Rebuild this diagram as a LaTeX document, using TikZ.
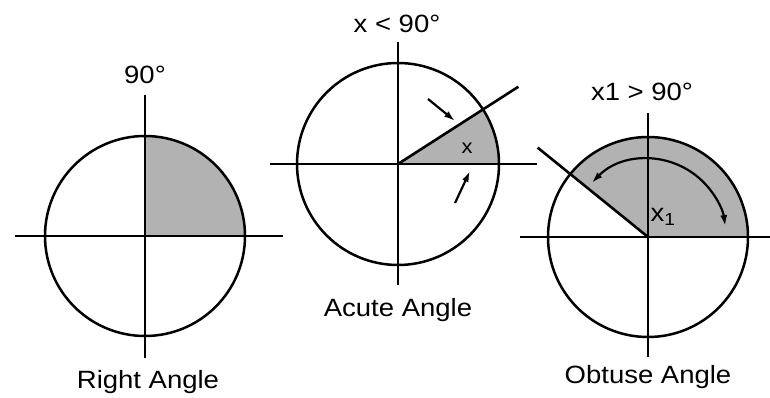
\documentclass[tikz,border=0pt]{standalone}
\usepackage{fontspec}
\setmainfont{Liberation Sans}
\newfontfamily\labfont[FakeStretch=1.1]{Liberation Sans}
\usetikzlibrary{arrows.meta,calc}
\definecolor{greyfill}{RGB}{178,178,178}
\begin{document}
\begin{tikzpicture}[x=1pt,y=1pt,
  ax/.style={line width=2.6pt,line cap=butt},
  circ/.style={line width=2.5pt},
  lab/.style={font=\labfont\fontsize{25}{30}\selectfont,inner sep=0pt},
  small/.style={font=\labfont\fontsize{20}{24}\selectfont,inner sep=0pt},
  arr/.style={line width=2.2pt,-{Latex[length=11pt,width=7pt]}},
  darr/.style={line width=2.2pt,{Latex[length=11pt,width=7pt]}-{Latex[length=11pt,width=7pt]}}]
\useasboundingbox (0,0) rectangle (770,398);
% ---------- Right angle ----------
\coordinate (cA) at (145,162);
\fill[greyfill] (cA) -- ++(0:100) arc[start angle=0,end angle=90,radius=100] -- cycle;
\draw[circ] (cA) circle[radius=100];
\coordinate (aL) at (15,162); \coordinate (aR) at (283,162);
\coordinate (aT) at (145,303); \coordinate (aB) at (145,40);
\draw[ax] (aL) -- (aR);
\draw[ax] (aT) -- (aB);
\node[lab] (t90) at (145,323) {90°};
\node[lab] (tRight) at (148,16) {Right Angle};
% ---------- Acute angle ----------
\coordinate (cB) at (398,234);
\fill[greyfill] (cB) -- ++(0:101) arc[start angle=0,end angle=32.7,radius=101] -- cycle;
\draw[circ] (cB) circle[radius=101];
\coordinate (bL) at (270,234); \coordinate (bR) at (537,234);
\coordinate (bT) at (398,356); \coordinate (bB) at (398,113);
\draw[ax] (bL) -- (bR);
\draw[ax] (bT) -- (bB);
\coordinate (bRay) at ($(cB)+(32.7:143)$);
\draw[ax] (cB) -- (bRay);
\node[small] (tx) at (467,250) {x};
\coordinate (b1s) at (428,299); \coordinate (b1e) at (455,277);
\coordinate (b2s) at (455,195); \coordinate (b2e) at (470,227);
\draw[arr] (b1s) -- (b1e);
\draw[arr] (b2s) -- (b2e);
\node[lab] (tlt) at (397,374) {x < 90°};
\node[lab] (tAcute) at (398,88) {Acute Angle};
% ---------- Obtuse angle ----------
\coordinate (cC) at (648,161);
\fill[greyfill] (cC) -- ++(0:100) arc[start angle=0,end angle=141,radius=100] -- cycle;
\draw[circ] (cC) circle[radius=100];
\coordinate (cL) at (520,161); \coordinate (cR) at (770,161);
\coordinate (cT) at (648,285); \coordinate (cBt) at (648,41);
\draw[ax] (cL) -- (cR);
\draw[ax] (cT) -- (cBt);
\coordinate (cRay) at ($(cC)+(141:142)$);
\draw[ax] (cC) -- (cRay);
\coordinate (arcS) at ($(cC)+(136:78)$);
\draw[darr] (arcS) arc[start angle=136,end angle=8,radius=78];
\node[lab] (tx1) at (663,181) {x\textsubscript{1}};
\node[lab] (tgt) at (642,306) {x1 > 90°};
\node[lab] (tObtuse) at (648,21) {Obtuse Angle};
\end{tikzpicture}
\end{document}
